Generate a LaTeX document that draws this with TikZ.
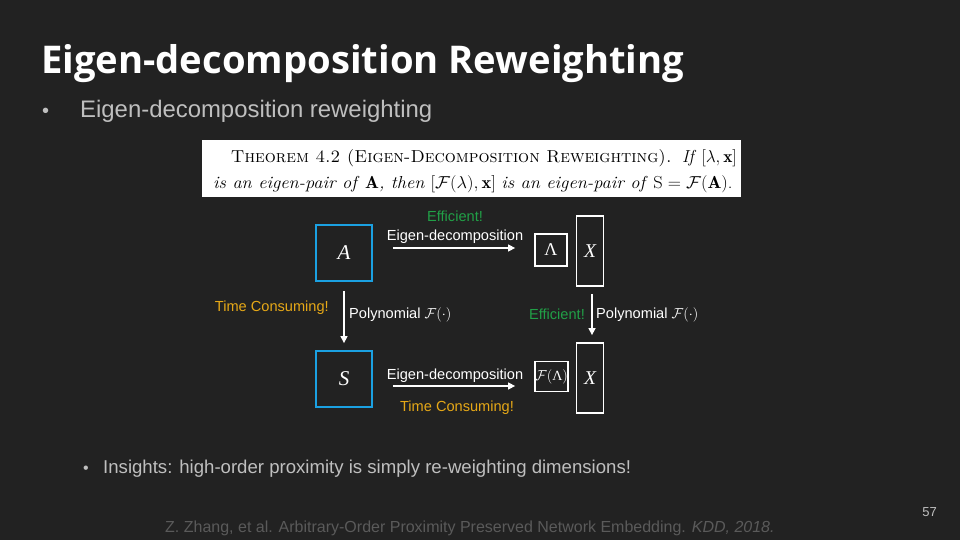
\documentclass[tikz,border=0pt]{standalone}
\usepackage{fontspec}
\usepackage{amsmath}
\usetikzlibrary{arrows.meta}
\newfontfamily\arialf{Liberation Sans}
\newfontfamily\titlef{Open Sans}
\newfontfamily\cambf{Liberation Serif}
\definecolor{bgc}{HTML}{222222}
\definecolor{bluec}{HTML}{1BA1E2}
\definecolor{greenc}{HTML}{21A047}
\definecolor{orangec}{HTML}{E6A817}
\definecolor{grayc}{HTML}{BFBFBF}
\definecolor{citec}{HTML}{5A5A5A}
\tikzset{
  matbox/.style={draw=bluec, line width=1.8pt, minimum width=56pt, minimum height=56pt, inner sep=0pt, text=white, font=\cambf\itshape\fontsize{21}{21}\selectfont},
  whitebox/.style={draw=white, line width=1.8pt, inner sep=0pt, text=white},
  lbl/.style={inner sep=0pt, text=white, font=\arialf\fontsize{14.6}{15}\selectfont},
  goodlbl/.style={lbl, text=greenc},
  badlbl/.style={lbl, text=orangec},
  arr/.style={draw=white, line width=1.4pt, -{Triangle[width=7pt,length=7pt]}},
}
\begin{document}
\begin{tikzpicture}[x=1pt,y=-1pt]
\fill[bgc] (0,0) rectangle (960,540);
\useasboundingbox (0,0) rectangle (960,540);
% title
\node[anchor=base west, inner sep=0pt, text=white, font=\titlef\bfseries\fontsize{38.2}{38}\selectfont] (title) at (41,74) {Eigen-decomposition Reweighting};
\node[anchor=base west, inner sep=0pt, text=grayc, font=\arialf\fontsize{20}{20}\selectfont] (b1) at (42,118) {•};
\node[anchor=base west, inner sep=0pt, text=grayc, font=\arialf\fontsize{23.9}{24}\selectfont] (t1) at (80,118) {Eigen-decomposition reweighting};
% theorem
\node[fill=white, minimum width=539pt, minimum height=57pt, inner sep=0pt, anchor=north west] (thm) at (202,140) {};
\node[anchor=base east, inner sep=0pt, font=\fontsize{17.35}{17}\selectfont] (thm1) at (737,163) {\textsc{Theorem 4.2 (Eigen-Decomposition Reweighting).}\ \ \textit{If} $[\lambda,\mathbf{x}]$};
\node[anchor=base west, inner sep=0pt, font=\fontsize{17.35}{17}\selectfont] (thm2) at (213,189) {\scalebox{1.06}[1]{\textit{is an eigen-pair of} $\mathbf{A}$\textit{, then} $[\mathcal{F}(\lambda),\mathbf{x}]$ \textit{is an eigen-pair of} $\mathrm{S}=\mathcal{F}(\mathbf{A})$.}};
% boxes
\node[matbox] (A) at (344,253) {A};
\node[matbox] (S) at (344,379) {S};
\node[whitebox, minimum width=32pt, minimum height=32pt, font=\cambf\fontsize{18}{18}\selectfont] (L) at (551,250) {Λ};
\node[whitebox, minimum width=27pt, minimum height=70pt, font=\cambf\itshape\fontsize{19.5}{19}\selectfont] (X1) at (590,251) {X};
\node[whitebox, minimum width=33pt, minimum height=30pt, font=\fontsize{14}{14}\selectfont] (FL) at (551.5,376.5) {$\mathcal{F}(\text{\cambf Λ})$};
\node[whitebox, minimum width=27pt, minimum height=70pt, font=\cambf\itshape\fontsize{19.5}{19}\selectfont] (X2) at (590,378) {X};
% arrows
\draw[arr, shorten <=20pt, shorten >=19pt] (A.east |- 0,248) -- (L.west |- 0,248);
\draw[arr, shorten <=20pt, shorten >=19pt] (S.east |- 0,386) -- (FL.west |- 0,386);
\draw[arr, shorten <=9pt, shorten >=7pt] (A.south) -- (S.north);
\draw[arr, shorten <=7pt, shorten >=7pt] ([xshift=2pt]X1.south) -- ([xshift=2pt]X2.north);
% labels
\node[goodlbl, anchor=base] (eff1) at (455,221) {Efficient!};
\node[lbl, anchor=base] (ed1) at (455,240) {Eigen-decomposition};
\node[lbl, anchor=base] (ed2) at (455,379) {Eigen-decomposition};
\node[badlbl, anchor=base] (tc2) at (457,411) {Time Consuming!};
\node[badlbl, anchor=base east] (tc1) at (329,311) {Time Consuming!};
\node[lbl, anchor=base west] (p1) at (349,318) {Polynomial $\mathcal{F}(\cdot)$};
\node[goodlbl, anchor=base east] (eff2) at (585,319) {Efficient!};
\node[lbl, anchor=base west] (p2) at (596,318) {Polynomial $\mathcal{F}(\cdot)$};
% insights
\node[anchor=base west, inner sep=0pt, text=grayc, font=\arialf\fontsize{16}{16}\selectfont] (b2) at (83,473) {•};
\node[anchor=base west, inner sep=0pt, text=grayc, font=\arialf\fontsize{18.6}{19}\selectfont] (t2) at (103,473) {Insights: high-order proximity is simply re-weighting dimensions!};
% citation
\node[anchor=base west, inner sep=0pt, text=citec, font=\arialf\fontsize{16}{16}\selectfont] (cite) at (165,532) {Z. Zhang, et al. Arbitrary-Order Proximity Preserved Network Embedding. \textit{KDD, 2018.}};
\node[anchor=base east, inner sep=0pt, text=grayc, font=\arialf\fontsize{13}{13}\selectfont] (pg) at (937,516) {57};
\end{tikzpicture}
\end{document}
